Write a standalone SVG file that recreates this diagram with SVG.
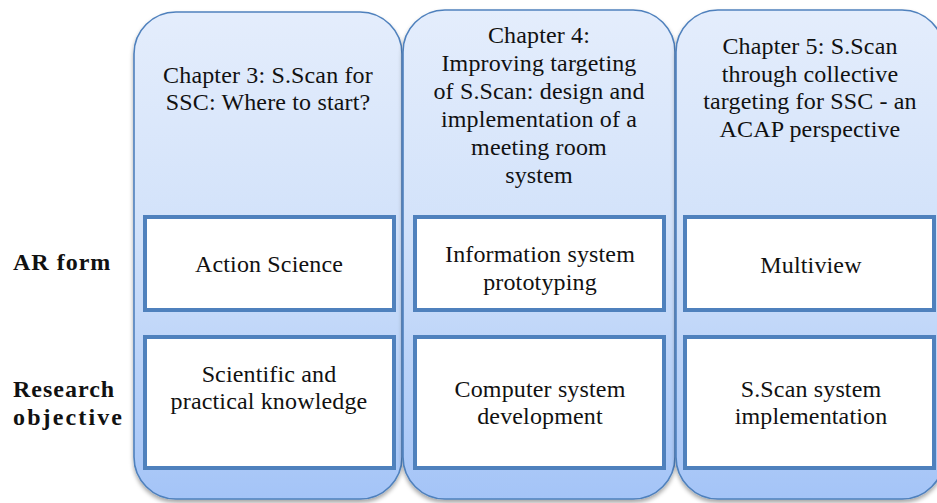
<svg xmlns="http://www.w3.org/2000/svg" width="937" height="503" viewBox="0 0 937 503">
<style>
.col{stroke:#4F81BD;stroke-width:1.6;fill:url(#g)}
.box{fill:#FFFFFF;stroke:#4F81BD;stroke-width:4}
text{font-family:"Liberation Serif","Times New Roman",serif;font-size:24px;fill:#111111;letter-spacing:0.15px}
.c{text-anchor:middle}
.lbl{font-weight:bold;letter-spacing:1px}
</style>
<defs>
<linearGradient id="g" x1="0" y1="0" x2="0" y2="1">
<stop offset="0" stop-color="#E4EDFC"/>
<stop offset="0.45" stop-color="#D2E2FA"/>
<stop offset="1" stop-color="#A4C4F7"/>
</linearGradient>
<filter id="sh" x="-10%" y="-10%" width="120%" height="120%">
<feDropShadow dx="0" dy="3" stdDeviation="2" flood-color="#000000" flood-opacity="0.35"/>
</filter>
</defs>
<rect width="937" height="503" fill="#FFFFFF"/>
<g id="labels">
<text class="lbl" x="13" y="270">AR form</text>
<text class="lbl" x="13" y="397">Research</text>
<text class="lbl" x="13" y="425" textLength="110">objective</text>
</g>
<g id="ch3">
<rect class="col" x="134" y="12" width="268" height="487" rx="42" filter="url(#sh)"/>
<text class="c" x="268" y="83">Chapter 3: S.Scan for</text>
<text class="c" x="268" y="110">SSC: Where to start?</text>
<rect class="box" x="145" y="217" width="249" height="93"/>
<text class="c" x="269" y="272">Action Science</text>
<rect class="box" x="145" y="337" width="249" height="131"/>
<text class="c" x="269" y="382">Scientific and</text>
<text class="c" x="269" y="409">practical knowledge</text>
</g>
<g id="ch4">
<rect class="col" x="403" y="10" width="272" height="489" rx="42" filter="url(#sh)"/>
<text class="c" x="539" y="43">Chapter 4:</text>
<text class="c" x="539" y="71">Improving targeting</text>
<text class="c" x="539" y="99">of S.Scan: design and</text>
<text class="c" x="539" y="127">implementation of a</text>
<text class="c" x="539" y="155">meeting room</text>
<text class="c" x="539" y="183">system</text>
<rect class="box" x="415" y="217" width="249" height="93"/>
<text class="c" x="540" y="262">Information system</text>
<text class="c" x="540" y="290">prototyping</text>
<rect class="box" x="415" y="337" width="249" height="131"/>
<text class="c" x="540" y="397">Computer system</text>
<text class="c" x="540" y="424">development</text>
</g>
<g id="ch5">
<rect class="col" x="676" y="10" width="268" height="489" rx="42" filter="url(#sh)"/>
<text class="c" x="810" y="54">Chapter 5: S.Scan</text>
<text class="c" x="810" y="82">through collective</text>
<text class="c" x="810" y="109">targeting for SSC - an</text>
<text class="c" x="810" y="137">ACAP perspective</text>
<rect class="box" x="685" y="217" width="249" height="93"/>
<text class="c" x="811" y="273">Multiview</text>
<rect class="box" x="685" y="337" width="249" height="131"/>
<text class="c" x="811" y="397">S.Scan system</text>
<text class="c" x="811" y="424">implementation</text>
</g>
<g id="connectors"/>
</svg>
